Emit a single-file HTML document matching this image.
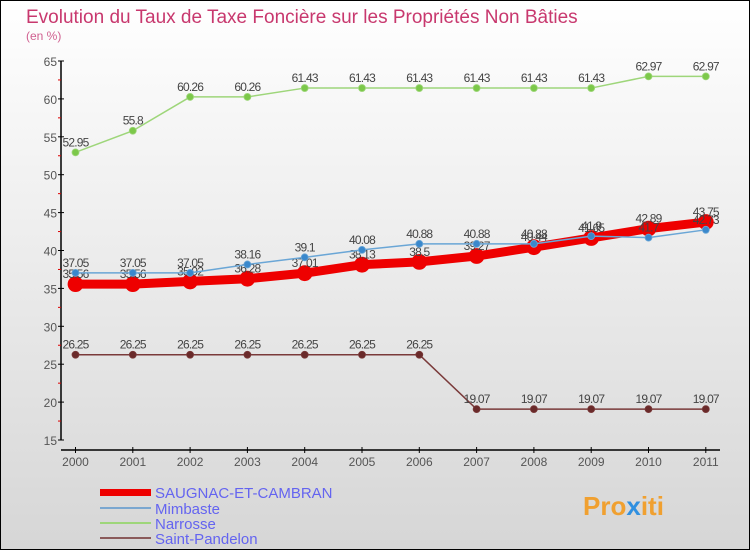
<!DOCTYPE html>
<html><head><meta charset="utf-8"><style>
body{margin:0;width:750px;height:550px;overflow:hidden;font-family:"Liberation Sans",sans-serif}
</style></head><body>
<svg width="750" height="550" xmlns="http://www.w3.org/2000/svg">
<defs><linearGradient id="bg" x1="0" y1="0" x2="0" y2="1"><stop offset="0" stop-color="#ffffff"/><stop offset="1" stop-color="#d6d6d6"/></linearGradient></defs>
<rect x="0" y="0" width="750" height="550" fill="url(#bg)" stroke="#000" stroke-width="2"/>
<text x="26" y="23" font-size="19" fill="#c8386e">Evolution du Taux de Taxe Foncière sur les Propriétés Non Bâties</text>
<text x="26" y="40" font-size="12" fill="#d06090">(en %)</text>
<g id="axes"></g><g id="series"></g>
<g>
<rect x="100" y="489" width="51" height="7" fill="#e00"/>
<line x1="100" y1="508" x2="151" y2="508" stroke="#7ba7d0" stroke-width="2"/>
<line x1="100" y1="523" x2="151" y2="523" stroke="#9ed67a" stroke-width="2"/>
<line x1="100" y1="538" x2="151" y2="538" stroke="#8a5a5a" stroke-width="2"/>
<text x="155" y="498" font-size="15" fill="#6464f0">SAUGNAC-ET-CAMBRAN</text>
<text x="155" y="514" font-size="15" fill="#6464f0">Mimbaste</text>
<text x="155" y="529" font-size="15" fill="#6464f0">Narrosse</text>
<text x="155" y="544" font-size="15" fill="#6464f0">Saint-Pandelon</text>
</g>
<g><text x="583" y="515" font-size="26" font-weight="bold" fill="#f0a030">Pro<tspan fill="#3090e0">x</tspan>iti</text></g>
</svg>
<script>
const years=["2000","2001","2002","2003","2004","2005","2006","2007","2008","2009","2010","2011"];
const saugnac=[35.56,35.56,35.92,36.28,37.01,38.13,38.5,39.27,40.44,41.65,42.89,43.75];
const mimbaste=[37.05,37.05,37.05,38.16,39.1,40.08,40.88,40.88,40.88,41.9,41.7,42.73];
const narrosse=[52.95,55.8,60.26,60.26,61.43,61.43,61.43,61.43,61.43,61.43,62.97,62.97];
const pandelon=[26.25,26.25,26.25,26.25,26.25,26.25,26.25,19.07,19.07,19.07,19.07,19.07];
const yTicks=[15,20,25,30,35,40,45,50,55,60,65];
const NS="http://www.w3.org/2000/svg";
const X=i=>75.5+i*57.3;
const Y=v=>440-(v-15)*(379/50);
function mk(t,a,p){const e=document.createElementNS(NS,t);for(const k in a)e.setAttribute(k,a[k]);p.appendChild(e);return e;}
const ax=document.getElementById('axes'),sg=document.getElementById('series');
let l=mk('line',{x1:61,y1:61,x2:61,y2:440,stroke:'#000','stroke-width':1.5},ax);


l=mk('line',{x1:61,y1:450,x2:720,y2:450,stroke:'#000','stroke-width':1.5},ax);


yTicks.forEach((v,i)=>{
  mk('line',{x1:58,y1:Y(v),x2:64,y2:Y(v),stroke:'#000'},ax);
  if(i<yTicks.length-1)mk('line',{x1:58,y1:Y(v+2.5),x2:61,y2:Y(v+2.5),stroke:'#d00'},ax);
  const t=mk('text',{x:57,y:Y(v)+5,'font-size':12,fill:'#555','text-anchor':'end'},ax);t.textContent=v;
  
  
});
years.forEach((y,i)=>{
  mk('line',{x1:X(i),y1:447,x2:X(i),y2:453,stroke:'#000'},ax);
  const t=mk('text',{x:X(i),y:466,'font-size':12,fill:'#555','text-anchor':'middle'},ax);t.textContent=y;
  
  
});
function series(d,color,w,r,name,dot){
  const g=mk('g',{},sg);
  
  
  mk('polyline',{points:d.map((v,i)=>X(i)+','+Y(v)).join(' '),fill:'none',stroke:color,'stroke-width':w,'stroke-linejoin':'round'},g);
  d.forEach((v,i)=>{
    const c=mk('circle',{cx:X(i),cy:Y(v),r:r,fill:dot,stroke:color,'stroke-width':0.8},g);
    
    
    const t=mk('text',{x:X(i),y:Y(v)-6,'font-size':12,fill:'#444','text-anchor':'middle','letter-spacing':'-0.8'},g);
    t.textContent=v;
    
    
  });
}
series(pandelon,'#7a3a3a',1.5,3.5,'saint-pandelon','#6a2a2a');
series(narrosse,'#9ed67a',1.5,3.5,'narrosse','#7cc84a');
series(saugnac,'#ee0000',9,7.5,'saugnac','#ee0000');
series(mimbaste,'#6aa6d6',1.5,3.5,'mimbaste','#3a88cc');
</script>
</body></html>
